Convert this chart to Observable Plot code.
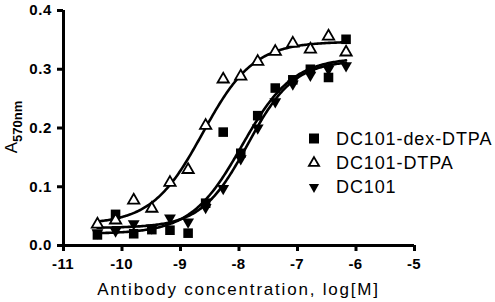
<!DOCTYPE html>
<html>
<head>
<meta charset="utf-8">
<script src="https://cdn.jsdelivr.net/npm/d3@7"></script>
<script src="https://cdn.jsdelivr.net/npm/@observablehq/plot@0.6"></script>
<style>
  html, body { margin: 0; padding: 0; background: #fff; }
  #chart svg { display: block; }
</style>
</head>
<body>
<div id="chart"></div>
<script>
// ---- data ----
const logConc = [-10.42, -10.11, -9.8, -9.49, -9.18, -8.87, -8.57, -8.27, -7.97, -7.68, -7.38, -7.08, -6.78, -6.47, -6.17];
const dexDTPA = [0.018, 0.053, 0.020, 0.027, 0.026, 0.021, 0.072, 0.193, 0.157, 0.221, 0.268, 0.282, 0.300, 0.286, 0.351];
const DTPA    = [0.036, 0.043, 0.077, 0.063, 0.107, 0.129, 0.204, 0.283, 0.288, 0.313, 0.330, 0.344, 0.334, 0.356, 0.329];
const DC101   = [0.022, 0.025, 0.037, 0.030, 0.047, 0.040, 0.065, 0.097, 0.148, 0.200, 0.245, 0.275, 0.290, 0.300, 0.306];

// fitted sigmoid parameters per series: [bottom, top, logEC50, hill]
const seriesNames = ["DC101-dex-DTPA", "DC101-DTPA", "DC101"];
const fitDexDTPA = [0.020, 0.320, -7.95, 1.0];
const fitDTPA    = [0.036, 0.347, -8.62, 1.0];
const fitDC101   = [0.030, 0.315, -7.85, 1.1];

const xTicks = [-11, -10, -9, -8, -7, -6, -5];
const yTicks = [0, 0.1, 0.2, 0.3, 0.4];
const xTickLabels = ["-11", "-10", "-9", "-8", "-7", "-6", "-5"];
const yTickLabels = ["0.0", "0.1", "0.2", "0.3", "0.4"];

// ---- build tables ----
const points = [];
[dexDTPA, DTPA, DC101].forEach((vals, s) => {
  vals.forEach((v, i) => points.push({series: seriesNames[s], x: logConc[i], y: v}));
});
function sigmoid(p, x) { return p[0] + (p[1] - p[0]) / (1 + Math.pow(10, (p[2] - x) * p[3])); }
const curves = [];
[fitDexDTPA, fitDTPA, fitDC101].forEach((p, s) => {
  const x0 = logConc[0], x1 = logConc[logConc.length - 1];
  for (let k = 0; k <= 200; k++) {
    const x = x0 + (x1 - x0) * k / 200;
    curves.push({series: seriesNames[s], x, y: sigmoid(p, x)});
  }
});

const font = "'Liberation Sans', Arial, Helvetica, sans-serif";

const plot = Plot.plot({
  width: 495,
  height: 302,
  marginLeft: 63,
  marginRight: 81,
  marginTop: 10,
  marginBottom: 57,
  style: {fontFamily: font, background: "#fff", color: "#000"},
  x: {domain: [-11, -5]},
  y: {domain: [0, 0.4]},
  marks: [
    Plot.axisX({ticks: xTicks, tickFormat: () => "", tickSize: 6, strokeWidth: 3, label: null}),
    Plot.axisY({ticks: yTicks, tickFormat: () => "", tickSize: 6, strokeWidth: 3, label: null}),
    Plot.ruleX([-11], {y1: 0, y2: 0.4, strokeWidth: 3}),
    Plot.ruleY([0], {x1: -11, x2: -5, strokeWidth: 3}),
    Plot.line(curves, {x: "x", y: "y", z: "series", stroke: "#000", strokeWidth: 2.6}),
    Plot.dot(points.filter(d => d.series === "DC101"), {x: "x", y: "y", symbol: "triangle", rotate: 180, r: 4.4, fill: "#000", stroke: "none"}),
    Plot.dot(points.filter(d => d.series === "DC101-dex-DTPA"), {x: "x", y: "y", symbol: "square", r: 5.4, fill: "#000", stroke: "none"}),
    Plot.dot(points.filter(d => d.series === "DC101-DTPA"), {x: "x", y: "y", symbol: "triangle", r: 4.2, fill: "#fff", stroke: "#000", strokeWidth: 1.8})
  ]
});

document.getElementById("chart").appendChild(plot);
const svg = d3.select(plot);
const sx = plot.scale("x"), sy = plot.scale("y");

// ---- tick labels (bold), positioned through the plot's own scales ----
xTicks.forEach((v, i) => {
  svg.append("text")
    .attr("x", sx.apply(v)).attr("y", sy.apply(0) + 24)
    .attr("text-anchor", "middle")
    .attr("font-family", font).attr("font-size", 15).attr("font-weight", "bold").attr("letter-spacing", 0.3)
    .attr("fill", "#000")
    .text(xTickLabels[i]);
});
yTicks.forEach((v, i) => {
  svg.append("text")
    .attr("x", 52).attr("y", sy.apply(v)).attr("dy", "0.36em")
    .attr("text-anchor", "end")
    .attr("font-family", font).attr("font-size", 15).attr("font-weight", "bold").attr("letter-spacing", 0.6)
    .attr("fill", "#000")
    .text(yTickLabels[i]);
});

// ---- titles and legend ----
svg.append("text")
  .attr("x", 238.5).attr("y", 295)
  .attr("text-anchor", "middle")
  .attr("font-family", font).attr("font-size", 17).attr("font-weight", "normal").attr("letter-spacing", 1.8)
  .attr("fill", "#000")
  .text("Antibody concentration, log[M]");

const yl = svg.append("text")
  .attr("transform", "translate(17,127) rotate(-90)")
  .attr("text-anchor", "middle")
  .attr("font-family", font).attr("font-weight", "normal").attr("fill", "#000");
yl.append("tspan").attr("font-size", 17).text("A");
yl.append("tspan").attr("font-size", 13).attr("font-weight", "bold").attr("dy", 5).text("570nm");

const legendY = [138.5, 163, 187];
const legendSymbols = [d3.symbolSquare, d3.symbolTriangle, d3.symbolTriangle];
seriesNames.forEach((name, i) => {
  const g = svg.append("g").attr("transform", `translate(314,${legendY[i]})`);
  const sym = d3.symbol().type(legendSymbols[i]).size(i === 0 ? 100 : 45);
  const p = g.append("path").attr("d", sym());
  if (i === 0) p.attr("fill", "#000");
  if (i === 1) p.attr("fill", "#fff").attr("stroke", "#000").attr("stroke-width", 1.8);
  if (i === 2) p.attr("fill", "#000").attr("transform", "rotate(180)");
  svg.append("text")
    .attr("x", 336).attr("y", legendY[i]).attr("dy", "0.36em")
    .attr("text-anchor", "start")
    .attr("font-family", font).attr("font-size", 18).attr("font-weight", "normal").attr("letter-spacing", 0.9)
    .attr("fill", "#000")
    .text(name);
});
</script>
</body>
</html>
